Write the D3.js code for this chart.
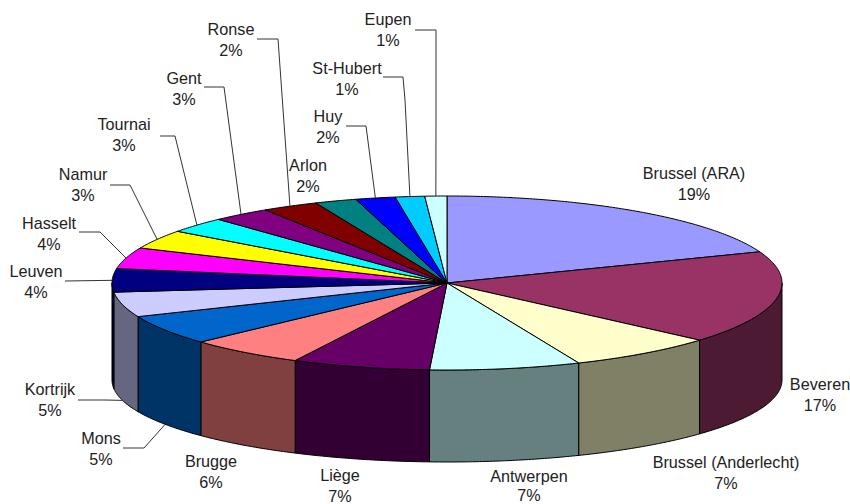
<!DOCTYPE html>
<html><head><meta charset="utf-8">
<script src="https://cdn.jsdelivr.net/npm/d3@7"></script>
<style>html,body{margin:0;background:#fff}svg{display:block}text{font-family:"Liberation Sans",Arial,sans-serif;font-size:16.2px;fill:#222;text-anchor:middle;dominant-baseline:central}</style>
</head><body><svg id="c" width="850" height="504"></svg>
<script>
const categories = ["Brussel (ARA)","Beveren","Brussel (Anderlecht)","Antwerpen","Liège","Brugge","Mons","Kortrijk","Leuven","Hasselt","Namur","Tournai","Gent","Ronse","Arlon","Huy","St-Hubert","Eupen"];
const sliceWeights = [19,17.1,7.1,7.2,6.6,5.6,5.5,4.6,4.3,3.9,3.5,2.9,2.8,2.7,2,1.9,1.4,1.05];
const percentLabels = ["19%","17%","7%","7%","7%","6%","5%","5%","4%","4%","3%","3%","3%","2%","2%","2%","1%","1%"];
const colours = ["#9999FF","#993366","#FFFFCC","#CCFFFF","#660066","#FF8080","#0066CC","#CCCCFF","#000080","#FF00FF","#FFFF00","#00FFFF","#800080","#800000","#008080","#0000FF","#00CCFF","#CCFFFF"];

// layout only: label centres and leader elbows
const labelCentres = [[694,173],[820,384],[726,462],[529,476],[340,475],[211,461],[101,438],[50,389],[36,271],[49,223],[83,174],[124,124],[184,78],[231,29],[308,165],[328,116],[347,68],[388,19]];
const leaderElbows = {6:[[123,448],[144,448]],7:[[78,400],[105,400]],8:[[65,281]],9:[[79,232],[100,232]],10:[[110,185],[130,185]],11:[[160,136],[175,136]],12:[[204,87],[224,87]],13:[[257,39],[278,39]],15:[[346,126],[366,126]],16:[[383,77],[403,77],[405,100]],17:[[415,30],[436,30],[436,115]]};

const sx = d3.scaleLinear().domain([-1,1]).range([112,782]);
const sy = d3.scaleLinear().domain([-1,1]).range([196,370]);
const syBase = d3.scaleLinear().domain([-1,1]).range([298,462]);
const px = a => sx(Math.sin(a)), py = a => sy(-Math.cos(a)), pyBase = a => syBase(-Math.cos(a));
const rows = categories.map((name,i)=>({name,weight:sliceWeights[i],label:percentLabels[i],colour:colours[i],i}));
const arcs = d3.pie().value(d=>d.weight).sort(null)(rows);
const line = d3.line();
const arcPts = (a0,a1,yf=py)=>{
  const n = Math.max(2,Math.ceil((a1-a0)/0.01));
  return d3.range(n+1).map(k=>{const a=a0+(a1-a0)*k/n;return [px(a),yf(a)];});
};
const halve = c => {const r=d3.rgb(c);return d3.rgb(r.r/2,r.g/2,r.b/2).formatHex();};
const svg = d3.select("#c");
// side walls (only the front half of the rim shows)
svg.append("g").selectAll("path")
  .data(arcs.filter(d=>d.endAngle>Math.PI/2 && d.startAngle<Math.PI*1.5))
  .join("path")
  .attr("d",d=>{
    const a0=Math.max(d.startAngle,Math.PI/2), a1=Math.min(d.endAngle,Math.PI*1.5);
    return line([...arcPts(a0,a1),...arcPts(a0,a1,pyBase).reverse()])+"Z";
  })
  .attr("fill",d=>halve(d.data.colour))
  .attr("stroke","#000").attr("stroke-width",1);
// top slices
svg.append("g").selectAll("path").data(arcs).join("path")
  .attr("d",d=>line([[sx(0),sy(0)],...arcPts(d.startAngle,d.endAngle)])+"Z")
  .attr("fill",d=>d.data.colour).attr("stroke","#000").attr("stroke-width",1);
// leaders, ending on the rim at each slice's middle
svg.append("g").selectAll("path").data(arcs.filter(d=>leaderElbows[d.data.i])).join("path")
  .attr("d",d=>{
    const m=(d.startAngle+d.endAngle)/2;
    const onFront=m<Math.PI*1.5&&m>Math.PI/2;
    return line([...leaderElbows[d.data.i],[px(m),onFront?pyBase(m):py(m)]]);
  })
  .attr("fill","none").attr("stroke","#333").attr("stroke-width",1);
// labels
const lab = svg.append("g").selectAll("g").data(rows).join("g");
lab.append("text").attr("x",d=>labelCentres[d.i][0]).attr("y",d=>labelCentres[d.i][1]).text(d=>d.name);
lab.append("text").attr("x",d=>labelCentres[d.i][0]).attr("y",d=>labelCentres[d.i][1]+(d.i===3?18.5:20.5)).text(d=>d.label);
</script></body></html>
